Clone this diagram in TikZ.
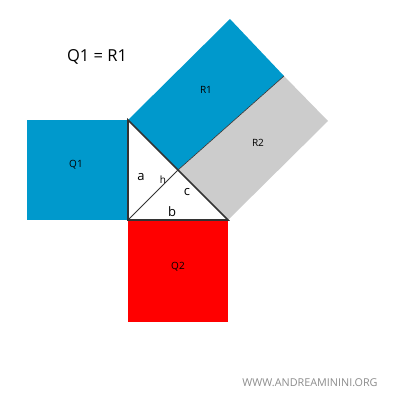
\documentclass[tikz,border=0pt]{standalone}
\usepackage{fontspec}
\setmainfont{Open Sans}
\definecolor{qblue}{HTML}{0099CC}
\definecolor{qgray}{HTML}{CCCCCC}
\definecolor{qred}{HTML}{FF0000}
\definecolor{edge}{HTML}{333333}
\begin{document}
\begin{tikzpicture}[x=1pt,y=-1pt,
  lbl/.style={font=\fontsize{10}{12}\selectfont, text=black, inner sep=0pt},
  side/.style={font=\fontsize{13}{15}\selectfont, text=black, inner sep=0pt}]
\useasboundingbox (0,0) rectangle (400,400);
\coordinate (A) at (128,120);
\coordinate (C) at (128,220);
\coordinate (B) at (228,220);
\coordinate (H) at (178,170);
\coordinate (R1t) at (230,19);
\coordinate (R1r) at (284,76);
\coordinate (R2r) at (328,121);
% squares
\fill[qblue] (27,120) rectangle (C);
\fill[qred] (C) rectangle (228,322);
\fill[qblue] (A) -- (R1t) -- (R1r) -- (H) -- cycle;
\fill[qgray] (H) -- (R1r) -- (R2r) -- (B) -- cycle;
\draw[edge, line width=0.6pt] (H) -- (R1r);
% triangle
\fill[white] (A) -- (C) -- (B) -- cycle;
\draw[edge, line width=0.8pt] (C) -- (H);
\draw[edge, line width=1.6pt, line join=miter] (A) -- (C) -- (B) -- cycle;
% labels
\node[font=\fontsize{16.5}{19}\selectfont, inner sep=0pt] (title) at (97,57) {Q1 = R1};
\node[lbl] (lq1) at (76,165) {Q1};
\node[lbl] (lq2) at (178,267) {Q2};
\node[lbl] (lr1) at (206,90) {R1};
\node[lbl] (lr2) at (258,143) {R2};
\node[side] (la) at (141,177) {a};
\node[lbl] (lh) at (163,180) {h};
\node[side] (lc) at (187,192) {c};
\node[side] (lb) at (172,212) {b};
\node[font=\fontsize{10.8}{12}\selectfont, text=black!45, inner sep=0pt] (web) at (310,383) {WWW.ANDREAMININI.ORG};
\end{tikzpicture}
\end{document}
